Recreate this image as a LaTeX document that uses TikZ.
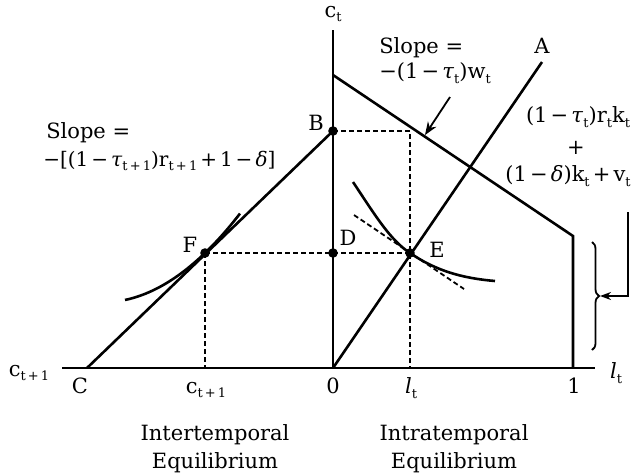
\documentclass[tikz,border=0pt]{standalone}
\usepackage{fontspec}
\setmainfont{DejaVu Serif}
\usetikzlibrary{arrows.meta,decorations.pathreplacing}
\newcommand\lo[1]{\raisebox{-0.45ex}{\fontsize{13}{13}\selectfont #1}}
\newcommand\ita[1]{\textit{#1}}
\newcommand\gapop{\hspace{0.15em}}
\begin{document}
\begin{tikzpicture}[x=1pt,y=-1pt,
  font=\fontsize{21}{28}\selectfont,
  line width=2.6pt,
  dashline/.style={line width=1.8pt,dash pattern=on 5pt off 3pt},
  dot/.style={fill=black},
  lbl/.style={inner sep=1pt}]
\useasboundingbox (0,0) rectangle (634,475);
% coordinates
\coordinate (O) at (333,368);
\coordinate (ytop) at (333,30);
\coordinate (xl) at (62,368);
\coordinate (xr) at (595,368);
\coordinate (C) at (87,368);
\coordinate (B) at (333,131);
\coordinate (A) at (542,62);
\coordinate (W) at (333,75);
\coordinate (K) at (573,236);
\coordinate (one) at (573,368);
\coordinate (D) at (333,253);
\coordinate (F) at (205,253);
\coordinate (E) at (410,253);
\coordinate (T1) at (354,215);
\coordinate (T2) at (464,289);
\coordinate (S1) at (450,97);
\coordinate (S2) at (425,135);
\coordinate (P1) at (628,212);
\coordinate (P2) at (628,296);
\coordinate (P3) at (600,296);
\coordinate (Bt) at (592,242);
\coordinate (Bb) at (592,350);
% axes and lines
\draw (xl) -- (xr);
\draw (O) -- (ytop);
\draw (C) -- (B);
\draw (O) -- (A);
\draw[line join=miter] (W) -- (K) -- (one);
% dashed
\draw[dashline] (B) -- (E |- B) -- (E |- O);
\draw[dashline] (F) -- (E);
\draw[dashline] (F) -- (F |- O);
\draw[dashline] (T1) -- (T2);
% indifference curves
\draw plot[domain=125:240,samples=40,smooth] (\x,{253-0.963*(\x-205)-0.0047*(\x-205)^2});
\draw (353,182) .. controls (375,215) and (390,240) .. (E) .. controls (435,270) and (460,278) .. (495,281);
% dots
\foreach \p in {B,D,F,E} \fill[dot] (\p) circle (4.8pt);
% slope arrow
\draw[line width=1.8pt,-{Stealth[length=13pt,width=10pt]}] (S1) -- (S2);
% brace and arrow
\draw[line width=1.8pt,decorate,decoration={brace,amplitude=7pt}] (Bt) -- (Bb);
\draw[line width=1.8pt,-{Stealth[length=11pt,width=8pt]}] (P1) -- (P2) -- (P3);
% labels
\node[lbl] (lct) at (333,14) {c\lo{t}};
\node[lbl] (lctp) at (29,373) {c\lo{t\,+\,1}};
\node[lbl] (lC) at (80,386) {C};
\node[lbl] (lc2) at (206,390) {c\lo{t\,+\,1}};
\node[lbl] (l0) at (333,386) {0};
\node[lbl] (llt) at (411,388) {\ita{l}\lo{t}};
\node[lbl] (l1) at (574,386) {1};
\node[lbl] (llt2) at (616,373) {\ita{l}\lo{t}};
\node[lbl] (lA) at (542,46) {A};
\node[lbl] (lB) at (316,123) {B};
\node[lbl] (lD) at (348,238) {D};
\node[lbl] (lF) at (190,245) {F};
\node[lbl] (lE) at (437,250) {E};
\node[lbl,anchor=west] (s1a) at (377,48) {Slope =};
\node[lbl,anchor=west] (s1b) at (377,73) {−(1\gapop−\gapop\ita{τ}\lo{t})w\lo{t}};
\node[lbl,anchor=west] (s2a) at (44,133) {Slope =};
\node[lbl,anchor=west,font=\fontsize{20}{24}\selectfont] (s2b) at (41,161) {−[(1\gapop−\gapop\ita{τ}\lo{t\,+\,1})r\lo{t\,+\,1}\gapop+\gapop1\gapop−\gapop\ita{δ}]};
\node[lbl] (r1) at (578,117) {(1\gapop−\gapop\ita{τ}\lo{t})r\lo{t}k\lo{t}};
\node[lbl] (r2) at (576,148) {+};
\node[lbl,anchor=east] (r3) at (633,176) {(1\gapop−\gapop\ita{δ})k\lo{t}\gapop+\gapop v\lo{t}};
\node[lbl,align=center] (inter) at (215,449) {Intertemporal\\Equilibrium};
\node[lbl,align=center] (intra) at (454,449) {Intratemporal\\Equilibrium};
\end{tikzpicture}
\end{document}
